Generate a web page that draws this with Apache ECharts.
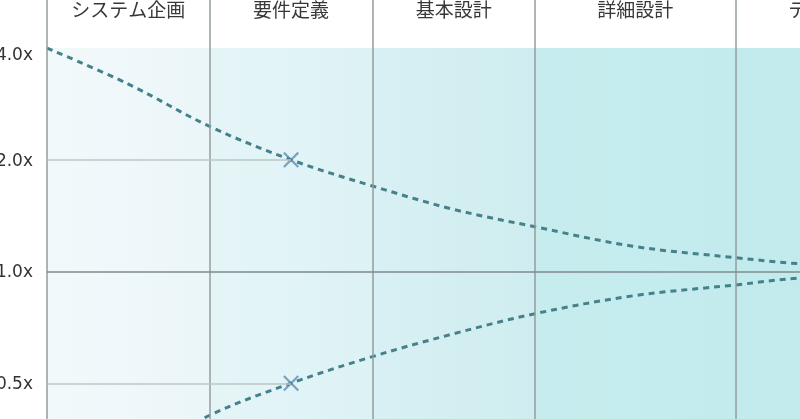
<!DOCTYPE html>
<html lang="ja">
<head>
<meta charset="UTF-8">
<title>不確実性コーン</title>
<style>
  html, body { margin: 0; padding: 0; background: #fff; }
  #main { width: 800px; height: 419px; }
</style>
</head>
<body>
<div id="main"></div>
<script src="https://cdn.jsdelivr.net/npm/echarts@6/dist/echarts.min.js"></script>
<script>
  // phases and where each one starts/ends on the x axis (one unit = one standard phase width)
  const phases = ['システム企画', '要件定義', '基本設計', '詳細設計', 'テスト'];
  const phaseEdges = [0, 1, 2, 3, 4.23, 5.23];
  const phaseColors = [
    ['#f2f9fb', '#ebf6f9'],
    ['#e5f5f7', '#ddf2f5'],
    ['#d8f0f3', '#cfedf0'],
    ['#c6ecee', '#c3ebed'],
    ['#c3ebed', '#c1eaec']
  ];

  const curveX = [0, 0.5, 1, 1.5, 2, 2.5, 3, 3.6, 4.23, 4.62, 5.23];
  const upper = [4.0, 3.2, 2.46, 2.0, 1.70, 1.47, 1.32, 1.17, 1.09, 1.05, 1.02];
  const lower = [0.25, 0.31, 0.41, 0.50, 0.59, 0.68, 0.77, 0.86, 0.92, 0.96, 0.98];

  // crossed points on the curves
  const marks = [[1.5, 2.0], [1.5, 0.5]];

  const yTicks = [0.25, 0.5, 1, 2, 4];

  var chartDom = document.getElementById('main');
  var myChart = echarts.init(chartDom);
  var option;

  const dashStyle = { color: '#44818a', width: 3, type: [6, 5] };

  const areas = phases.map(function (name, i) {
    return [
      {
        name: name,
        xAxis: phaseEdges[i],
        yAxis: 4,
        itemStyle: {
          color: {
            type: 'linear', x: 0, y: 0, x2: 1, y2: 0,
            colorStops: [
              { offset: 0, color: phaseColors[i][0] },
              { offset: 1, color: phaseColors[i][1] }
            ]
          }
        }
      },
      { xAxis: phaseEdges[i + 1], yAxis: yTicks[0] }
    ];
  });

  const edgeLines = phaseEdges.slice(0, phases.length).map(function (x) {
    return { xAxis: x };
  });

  option = {
    backgroundColor: '#ffffff',
    animation: false,
    grid: {
      left: 47,
      right: -98,
      top: 0,
      bottom: -76,
      outerBoundsMode: 'none'
    },
    xAxis: {
      type: 'value',
      min: 0,
      max: phaseEdges[phaseEdges.length - 1],
      show: false
    },
    yAxis: {
      type: 'log',
      logBase: 2,
      min: yTicks[0],
      max: 5.39,
      axisLine: { show: false },
      axisTick: { show: false },
      splitLine: { show: false },
      axisLabel: {
        margin: 14,
        fontSize: 17,
        color: '#333',
        fontFamily: 'DejaVu Sans',
        formatter: function (v) {
          const l = Math.log2(v);
          if (Math.abs(l - Math.round(l)) > 1e-6) return '';
          const txt = v.toFixed(1) + 'x';
          // top label sits a little below its line
          return l > 1.5 ? '{top|' + txt + '}' : '{n|' + txt + '}';
        },
        rich: {
          top: { fontSize: 17, fontFamily: 'DejaVu Sans', color: '#333', padding: [15, 0, 0, 0] },
          n: { fontSize: 17, fontFamily: 'DejaVu Sans', color: '#333', padding: [3, 0, 0, 0] }
        }
      }
    },
    series: [
      {
        name: 'phases',
        type: 'line',
        data: [],
        silent: true,
        markArea: {
          silent: true,
          label: {
            show: true,
            position: 'top',
            distance: 29,
            fontSize: 19,
            color: '#383838',
            fontFamily: 'Noto Sans CJK JP'
          },
          data: areas
        },
        markLine: {
          silent: true,
          symbol: 'none',
          label: { show: false },
          lineStyle: { color: '#929c9e', width: 1.5, type: 'solid' },
          data: edgeLines.concat([
            [{ coord: [0, 2], lineStyle: { color: '#bcc6c8', width: 1.5 } }, { coord: [marks[0][0], 2] }],
            [{ coord: [0, 0.5], lineStyle: { color: '#bcc6c8', width: 1.5 } }, { coord: [marks[1][0], 0.5] }],
            { yAxis: 1, lineStyle: { color: '#7e8a8c', width: 1.5 } }
          ])
        }
      },
      {
        name: '上限',
        type: 'line',
        smooth: 0.35,
        showSymbol: false,
        lineStyle: dashStyle,
        data: curveX.map(function (x, i) { return [x, upper[i]]; })
      },
      {
        name: '下限',
        type: 'line',
        smooth: 0.35,
        showSymbol: false,
        lineStyle: dashStyle,
        data: curveX.map(function (x, i) { return [x, lower[i]]; })
      },
      {
        name: '見積り',
        type: 'scatter',
        symbol: 'path://M1,0 L5,4 L9,0 L10,1 L6,5 L10,9 L9,10 L5,6 L1,10 L0,9 L4,5 L0,1 Z',
        symbolSize: 16,
        itemStyle: { color: '#5f8fb6' },
        data: marks
      }
    ]
  };

  option && myChart.setOption(option);
</script>
</body>
</html>
